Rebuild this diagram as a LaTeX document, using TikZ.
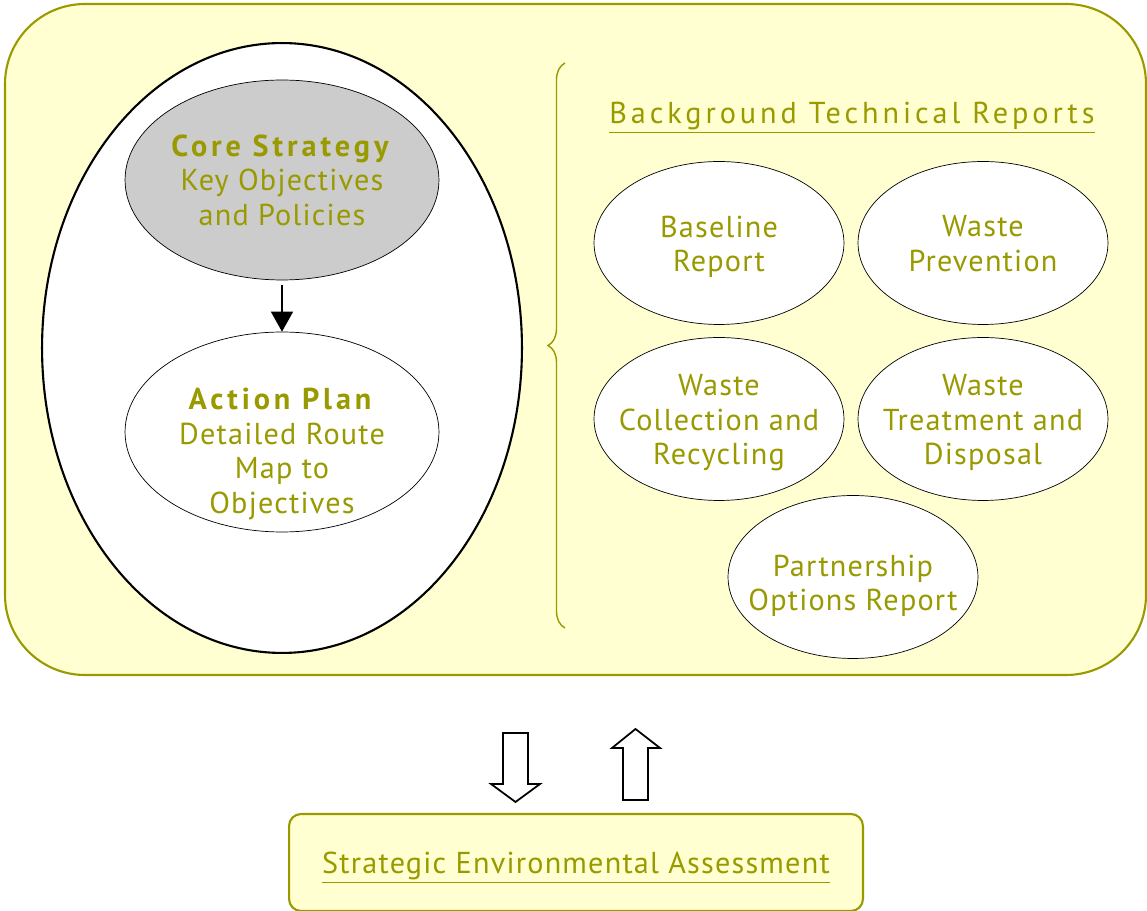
\documentclass[tikz,border=0pt]{standalone}
\usepackage{fontspec}
\setmainfont{PT Sans}[LetterSpace=4]
\usepackage{tikz}
\usetikzlibrary{shapes.geometric, arrows.meta, positioning, decorations.pathreplacing}
\definecolor{olivetxt}{HTML}{999900}
\definecolor{paleyellow}{HTML}{FFFFD1}
\definecolor{ovalgray}{HTML}{CCCCCC}
\newcommand{\spaced}[1]{{\addfontfeature{LetterSpace=13}#1}}

\begin{document}
\begin{tikzpicture}[x=0.02cm, y=-0.02cm]
	\tikzstyle{parttext} = [align=center, text=olivetxt, font=\fontsize{17.2}{19.6}\selectfont]
	\tikzstyle{padded} = [execute at begin node={\rule{0pt}{1.06em}}, execute at end node={\rule[-0.25em]{0pt}{0.25em}}]
	\tikzstyle{reporttext} = [parttext, yshift=-0.1cm, execute at end node={\rule[-5pt]{0pt}{5pt}}]
	\tikzstyle{report} = [ellipse, draw, fill=white, minimum width=5cm, minimum height=3.26cm]
	\tikzstyle{part} = [ellipse, draw, fill=white, inner xsep=-0.4cm, inner ysep=0pt, parttext, minimum width=6.28cm, minimum height=4cm]
	\tikzstyle{arrow} = [thick, -{Triangle[width=0.44cm, length=0.4cm]}]
	\tikzstyle{hollow} = [draw=black, fill=white, line width=1pt, line join=miter]
	\useasboundingbox (0,0) rectangle (1147,911);

	% Marco de la estrategia
	\draw[draw=olivetxt, fill=paleyellow, line width=1.2pt, rounded corners=1.6cm] (5,4) rectangle (1146,675);
	\node (strategy) [ellipse, draw, line width=1.2pt, fill=white, minimum width=9.6cm, minimum height=12.2cm] at (282,348) {};

	% Nucleo y plan de accion
	\node (core) [part, fill=ovalgray] at (282,180) {\spaced{\textbf{Core Strategy}}\\Key Objectives\\and Policies};
	\node (action) [part, label={[parttext, yshift=-0.44cm]center:{\spaced{\textbf{Action Plan}}\\Detailed Route\\Map to\\Objectives}}] at (282,432) {};
	\draw[arrow, shorten <=0.1cm] (core) -- (action);

	% Informes tecnicos
	\draw[draw=olivetxt, thick, decorate, decoration={brace, amplitude=0.34cm}] (565,628) -- (565,63);
	\node (reports) [parttext, padded] at (852,112) {\spaced{\underline{Background Technical Reports}}};
	\node (baseline) [report, label={[reporttext]center:{Baseline\\Report}}] at (719,243) {};
	\node (prevention) [report, label={[reporttext]center:{Waste\\Prevention}}] at (983,243) {};
	\node (collection) [report, label={[reporttext]center:{Waste\\Collection and\\Recycling}}] at (719,419) {};
	\node (treatment) [report, label={[reporttext]center:{Waste\\Treatment and\\Disposal}}] at (983,419) {};
	\node (partnership) [report, label={[reporttext, yshift=-0.1cm]center:{Partnership\\Options Report}}] at (853,577) {};

	% Flechas huecas
	\draw[hollow] (503,733) -- (528,733) -- (528,784) -- (540,784) -- (515.5,802) -- (491,784) -- (503,784) -- cycle;
	\draw[hollow] (623,800) -- (648,800) -- (648,748) -- (660,748) -- (635.5,729) -- (612,748) -- (623,748) -- cycle;

	% Evaluacion ambiental
	\node (sea) [draw=olivetxt, fill=paleyellow, line width=1.2pt, rounded corners=0.24cm, minimum width=11.48cm, minimum height=1.94cm, parttext, padded] at (576,862.5) {\underline{Strategic Environmental Assessment}};
\end{tikzpicture}
\end{document}
